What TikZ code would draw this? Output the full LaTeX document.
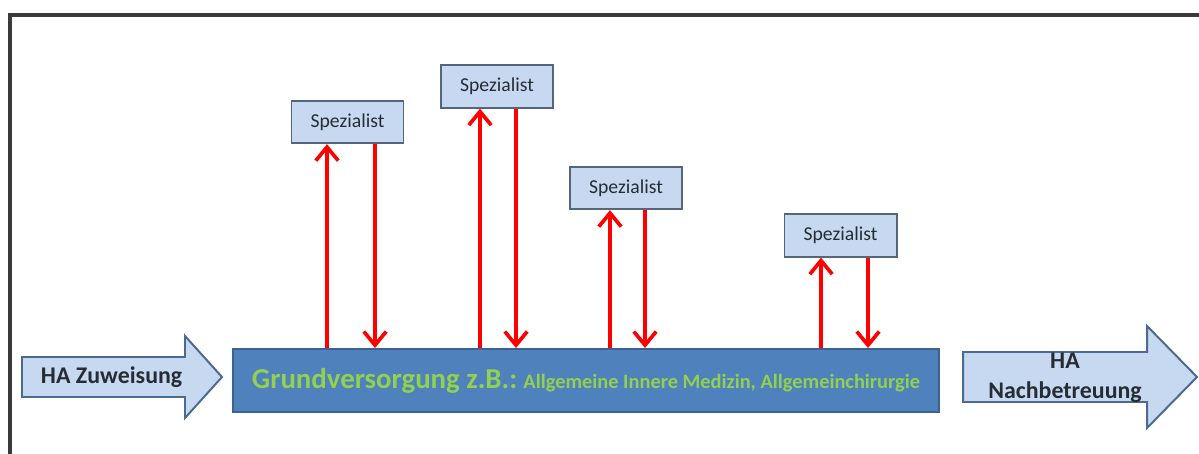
\documentclass[tikz,border=0pt]{standalone}
\usepackage{fontspec}
\setmainfont{Carlito}
\usetikzlibrary{arrows.meta,calc}

\definecolor{grundblue}{HTML}{4F81BD}
\definecolor{grunddraw}{HTML}{3B6292}
\definecolor{lightblue}{HTML}{C6D9F1}
\definecolor{boxdraw}{HTML}{56657A}
\definecolor{arrowdraw}{HTML}{4A6A91}
\definecolor{grundgreen}{HTML}{92D050}
\definecolor{darktext}{HTML}{262C33}
\definecolor{framegray}{HTML}{3A3A3A}

\begin{document}
\begin{tikzpicture}[>={Straight Barb[length=3.4mm,width=5.6mm]},
	]

	\tikzset{spez box/.style={
				draw=boxdraw,
				fill=lightblue,
				line width=1.4pt,
				minimum width=2.8cm,
				minimum height=1.06cm,
				inner sep=0pt,
				text=darktext,
				font=\fontsize{14}{16}\selectfont}
	}
	\tikzset{red arrow/.style={
				draw=red,
				line width=2.6pt,
				->}
	}
	\tikzset{big arrow/.style={
				draw=arrowdraw,
				fill=lightblue,
				line width=1.4pt,
				line join=miter}
	}

	\useasboundingbox (0,0) rectangle (29.975,11.35);

	% frame, only the top and the left side are visible
	\draw[framegray,line width=2.2pt] (0.25,0) -- (0.25,10.975) -- (29.975,10.975);

	\node[draw=grunddraw,fill=grundblue,line width=1.4pt,minimum width=17.65cm,minimum height=1.575cm,inner sep=0pt,text=grundgreen,font=\bfseries] (grund) at (14.65,1.8375)
	{\fontsize{20.5}{24}\selectfont Grundversorgung z.B.:\fontsize{14.5}{17}\selectfont{} Allgemeine Innere Medizin, Allgemeinchirurgie};

	% incoming arrow
	\draw[big arrow] (0.55,2.425) -- (4.625,2.425) -- (4.625,2.95) -- (5.55,1.925) -- (4.625,0.9) -- (4.625,1.425) -- (0.55,1.425) -- cycle;
	\node[text=darktext,font=\bfseries\fontsize{17}{20}\selectfont] (zuweisung) at (2.79,1.925) {HA Zuweisung};

	% outgoing arrow
	\draw[big arrow] (24.075,2.55) -- (28.675,2.55) -- (28.675,3.2) -- (29.925,1.925) -- (28.675,0.65) -- (28.675,1.3) -- (24.075,1.3) -- cycle;
	\node[text=darktext,font=\bfseries\fontsize{17}{21}\selectfont,align=center] (nachbetreuung) at (26.625,1.9) {HA\\Nachbetreuung};

	\foreach \i/\x/\y/\xup/\xdown in {1/8.6875/8.3/8.175/9.375, 2/12.425/9.1875/12.0/12.9, 3/15.65/6.65/15.25/16.125, 4/21.0125/5.4625/20.525/21.7} {

			\node[spez box] (spez\i) at (\x,\y) {Spezialist};
			\coordinate (up\i) at (\xup,0);
			\coordinate (down\i) at (\xdown,0);

			\draw[red arrow] (up\i |- grund.north) -- (up\i |- spez\i.south);
			\draw[red arrow] (down\i |- spez\i.south) -- (down\i |- grund.north);
		}

\end{tikzpicture}
\end{document}
